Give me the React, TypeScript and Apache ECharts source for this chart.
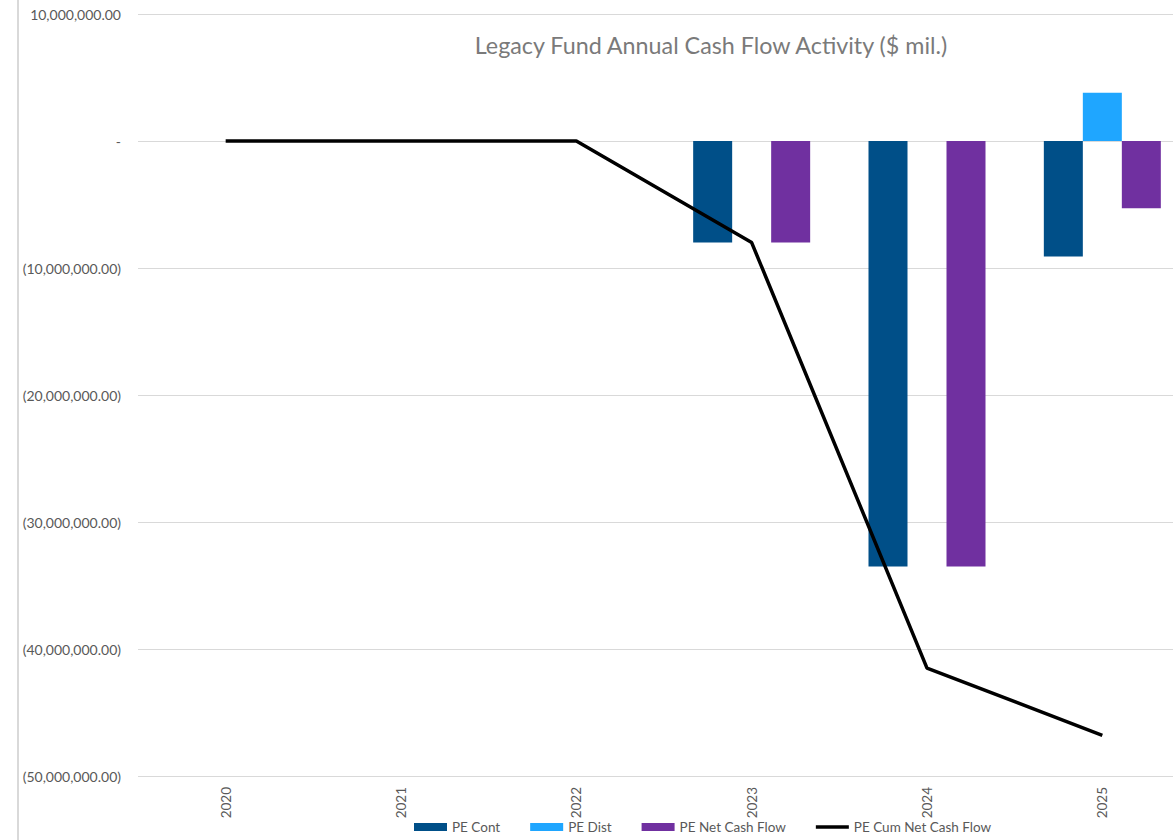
import React, { useEffect, useRef } from "react";
import * as echarts from "echarts";

const categories = ["2020", "2021", "2022", "2023", "2024", "2025"];
const peCont = [0, 0, 0, -8000000, -33500000, -9100000];
const peDist = [0, 0, 0, 0, 0, 3800000];
const peNet = [0, 0, 0, -8000000, -33500000, -5300000];
const peCum = [0, 0, 0, -8000000, -41500000, -46800000];

const FONT = "Lato, 'Open Sans', sans-serif";

function fmt(v: number): string {
  if (v === 0) return "-";
  const s = Math.abs(v).toLocaleString("en-US", {
    minimumFractionDigits: 2,
    maximumFractionDigits: 2,
  });
  return v < 0 ? `(${s})` : s;
}

export default function App() {
  const ref = useRef<HTMLDivElement>(null);
  useEffect(() => {
    if (!ref.current) return;
    const chart = echarts.init(ref.current, undefined, { renderer: "svg" });
    chart.setOption({
      animation: false,
      backgroundColor: "#ffffff",
      title: {
        text: "Legacy Fund Annual Cash Flow Activity ($ mil.)",
        left: 706,
        top: 28,
        textAlign: "center",
        textStyle: {
          fontFamily: FONT,
          fontSize: 23.3,
          fontWeight: "normal",
          color: "#7a7a7a",
        },
      },
      legend: {
        left: 409,
        top: 815,
        itemWidth: 33,
        itemHeight: 8,
        itemGap: 30,
        textStyle: { fontFamily: FONT, fontSize: 13.5, color: "#595959" },
        data: [
          { name: "PE Cont", icon: "rect" },
          { name: "PE Dist", icon: "rect" },
          { name: "PE Net Cash Flow", icon: "rect" },
          { name: "PE Cum Net Cash Flow", icon: "path://M0,0 H33 V3.5 H0 Z" },
        ],
      },
      grid: { left: 138, top: 14, width: 1052, height: 762 },
      xAxis: {
        type: "category",
        data: categories,
        axisLine: { show: false },
        axisTick: { show: false },
        axisLabel: {
          rotate: 90,
          margin: 11,
          fontFamily: FONT,
          fontSize: 13.5,
          color: "#595959",
        },
        position: "bottom",
      },
      yAxis: {
        type: "value",
        min: -50000000,
        max: 10000000,
        interval: 10000000,
        axisLine: { show: false },
        axisTick: { show: false },
        splitLine: { lineStyle: { color: "#d9d9d9", width: 1 } },
        axisLabel: {
          margin: 17,
          fontFamily: FONT,
          fontSize: 14,
          color: "#595959",
          formatter: (v: number) => fmt(v),
        },
      },
      series: [
        {
          name: "PE Cont",
          type: "bar",
          data: peCont,
          barWidth: 39,
          barGap: "0%",
          itemStyle: { color: "#004F88" },
        },
        {
          name: "PE Dist",
          type: "bar",
          data: peDist,
          barWidth: 39,
          barGap: "0%",
          itemStyle: { color: "#1FA6FF" },
        },
        {
          name: "PE Net Cash Flow",
          type: "bar",
          data: peNet,
          barWidth: 39,
          barGap: "0%",
          itemStyle: { color: "#7030A0" },
        },
        {
          name: "PE Cum Net Cash Flow",
          type: "line",
          data: peCum,
          symbol: "none",
          z: 5,
          lineStyle: { color: "#000000", width: 3.5 },
          itemStyle: { color: "#000000" },
        },
      ],
      graphic: [
        {
          type: "rect",
          shape: { x: 17, y: 0, width: 2, height: 840 },
          style: { fill: "#d9d9d9" },
        },
      ],
    });
    return () => chart.dispose();
  }, []);
  return (
    <div
      style={{
        position: "fixed",
        left: 0,
        top: 0,
        width: 1173,
        height: 840,
        overflow: "hidden",
        background: "#ffffff",
      }}
    >
      <div ref={ref} style={{ width: 1200, height: 840 }} />
    </div>
  );
}
